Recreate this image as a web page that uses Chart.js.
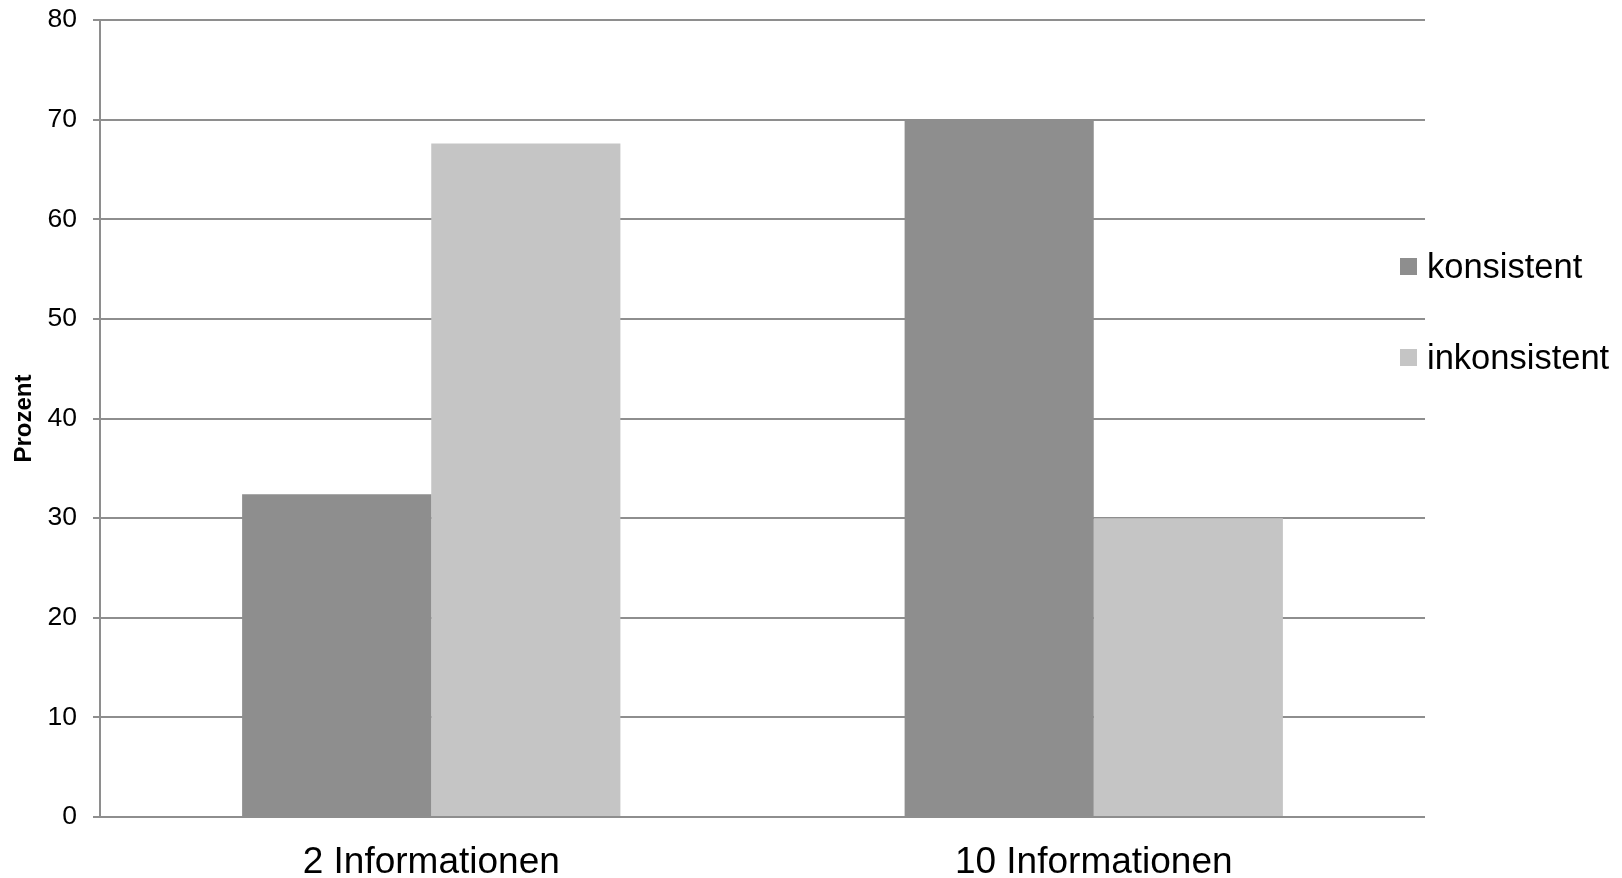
<!DOCTYPE html>
<html lang="de">
<head>
<meta charset="utf-8">
<title>Prozent nach Informationsmenge</title>
<script src="https://cdn.jsdelivr.net/npm/chart.js@4/dist/chart.umd.min.js"></script>
<style>
  html, body { margin: 0; padding: 0; background: #ffffff; }
  #wrap { width: 1622px; height: 878px; }
</style>
</head>
<body>
<div id="wrap"><canvas id="chart" width="1622" height="878"></canvas></div>
<script>
// Categories and series values (percent)
const categories = ['2 Informationen', '10 Informationen'];
const konsistent = [32.4, 70.0];
const inkonsistent = [67.6, 30.0];
const seriesNames = ['konsistent', 'inkonsistent'];
const yTicks = [0, 10, 20, 30, 40, 50, 60, 70, 80];

const FONT = '"Liberation Sans", Arial, sans-serif';
const GRID = '#8e8e8e';

// Legend drawn to the right of the plot, Excel style: small square + label
const sideLegend = {
  id: 'sideLegend',
  afterDraw(chart) {
    const ctx = chart.ctx;
    const baselines = [278, 369];
    ctx.save();
    ctx.font = '34.5px ' + FONT;
    ctx.textAlign = 'left';
    ctx.textBaseline = 'alphabetic';
    chart.data.datasets.forEach((ds, i) => {
      const by = baselines[i];
      ctx.fillStyle = ds.backgroundColor;
      ctx.fillRect(1400, by - 20, 17, 17);
      ctx.fillStyle = '#000000';
      ctx.fillText(ds.label, 1427, by);
    });
    ctx.restore();
  }
};

new Chart(document.getElementById('chart'), {
  type: 'bar',
  data: {
    labels: categories,
    datasets: [
      { label: seriesNames[0], data: konsistent, backgroundColor: '#8e8e8e' },
      { label: seriesNames[1], data: inkonsistent, backgroundColor: '#c5c5c5' }
    ]
  },
  options: {
    responsive: false,
    animation: false,
    devicePixelRatio: 1,
    layout: { padding: { left: 0, right: 197, top: 20, bottom: 0 } },
    datasets: {
      bar: { categoryPercentage: 0.571, barPercentage: 1.0, borderWidth: 0 }
    },
    plugins: {
      legend: { display: false },
      tooltip: { enabled: false },
      title: { display: false }
    },
    scales: {
      x: {
        grid: { display: false, drawTicks: false },
        border: { display: false },
        ticks: {
          color: '#000000',
          font: { family: FONT, size: 37 },
          padding: 24,
          maxRotation: 0
        },
        afterFit(scale) { scale.height = 61; }
      },
      y: {
        min: 0,
        max: 80,
        afterBuildTicks(scale) { scale.ticks = yTicks.map(v => ({ value: v })); },
        grid: { color: GRID, lineWidth: 2, drawTicks: true, tickLength: 7, tickColor: GRID },
        border: { display: true, color: GRID, width: 2 },
        ticks: {
          color: '#000000',
          font: { family: FONT, size: 26.5 },
          padding: 16
        },
        title: {
          display: true,
          text: 'Prozent',
          color: '#000000',
          font: { family: FONT, size: 24, weight: 'bold' },
          padding: { top: 10, bottom: 0 }
        },
        afterFit(scale) {
          scale.width = 100;
          scale.paddingTop = 0;
          scale.paddingBottom = 0;
        }
      }
    }
  },
  plugins: [sideLegend]
});
</script>
</body>
</html>
